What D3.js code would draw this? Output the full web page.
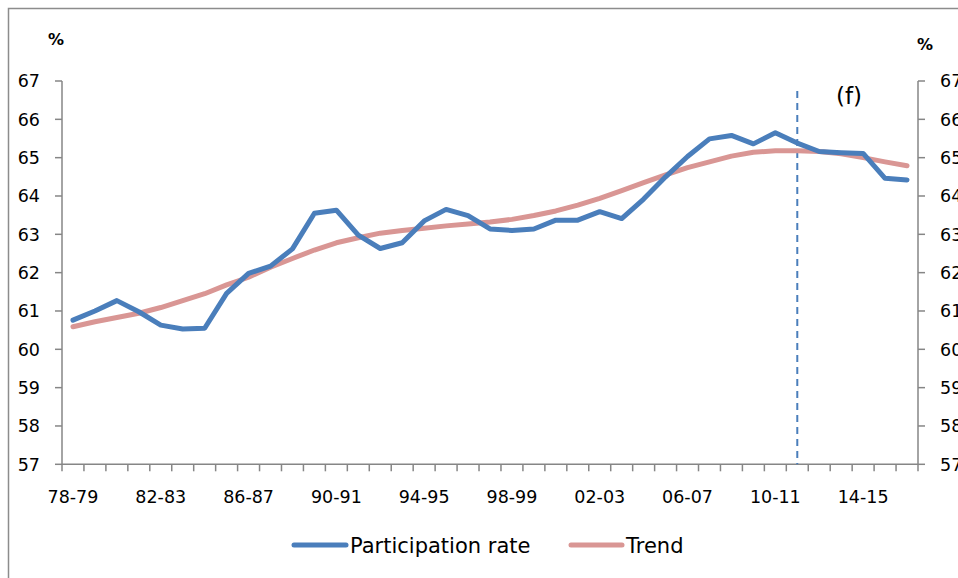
<!DOCTYPE html>
<html>
<head>
<meta charset="utf-8">
<script src="https://cdn.jsdelivr.net/npm/d3@7"></script>
<style>
  html, body { margin: 0; padding: 0; background: #fff; }
  svg { display: block; font-family: "DejaVu Sans", "Open Sans", sans-serif; }
</style>
</head>
<body>
<svg id="chart" width="958" height="578"></svg>
<script>
const categories = [
  "78-79", "79-80", "80-81", "81-82", "82-83", "83-84", "84-85", "85-86",
  "86-87", "87-88", "88-89", "89-90", "90-91", "91-92", "92-93", "93-94",
  "94-95", "95-96", "96-97", "97-98", "98-99", "99-00", "00-01", "01-02",
  "02-03", "03-04", "04-05", "05-06", "06-07", "07-08", "08-09", "09-10",
  "10-11", "11-12", "12-13", "13-14", "14-15", "15-16", "16-17",
];

const participation = [
  60.76, 61.00, 61.27, 60.98, 60.63, 60.53, 60.55, 61.46,
  61.98, 62.17, 62.62, 63.55, 63.63, 62.98, 62.63, 62.78,
  63.35, 63.65, 63.49, 63.14, 63.10, 63.14, 63.37, 63.37,
  63.59, 63.41, 63.92, 64.50, 65.03, 65.49, 65.58, 65.36,
  65.65, 65.38, 65.16, 65.13, 65.11, 64.46, 64.42,
];

const trend = [
  60.59, 60.72, 60.83, 60.94, 61.09, 61.27, 61.45, 61.68,
  61.88, 62.14, 62.37, 62.59, 62.78, 62.91, 63.03, 63.10,
  63.16, 63.22, 63.27, 63.32, 63.39, 63.49, 63.61, 63.76,
  63.94, 64.14, 64.35, 64.55, 64.74, 64.89, 65.04, 65.14,
  65.18, 65.18, 65.16, 65.10, 65.00, 64.89, 64.79,
];

const yTicks = [57, 58, 59, 60, 61, 62, 63, 64, 65, 66, 67];
const labelEvery = 4;
const forecastStart = "11-12";

const seriesList = [
  { name: "Participation rate", values: participation, color: "#4a7ebb" },
  { name: "Trend", values: trend, color: "#d99694" },
];

const svg = d3.select("#chart");
const axisColor = "#868686";

const x = d3.scaleBand().domain(categories).range([62, 918]).padding(0);
const y = d3.scaleLinear().domain([57, 67]).range([464.3, 81]);

// outer chart border
svg.append("rect")
  .attr("x", 8.5).attr("y", 8.5)
  .attr("width", 1000).attr("height", 1000)
  .attr("fill", "none")
  .attr("stroke", "#8c8c8c")
  .attr("stroke-width", 1.5);

const cx = (i) => x(categories[i]) + x.bandwidth() / 2;

// left axis
const left = svg.append("g");
left.append("line")
  .attr("x1", 62).attr("x2", 62)
  .attr("y1", y(67)).attr("y2", y(57))
  .attr("stroke", axisColor).attr("stroke-width", 1.5);
left.selectAll("line.tick")
  .data(yTicks)
  .join("line")
  .attr("class", "tick")
  .attr("x1", 55).attr("x2", 62)
  .attr("y1", (d) => y(d)).attr("y2", (d) => y(d))
  .attr("stroke", axisColor).attr("stroke-width", 1.5);
left.selectAll("text")
  .data(yTicks)
  .join("text")
  .attr("x", 40)
  .attr("y", (d) => y(d))
  .attr("dy", "0.36em")
  .attr("text-anchor", "end")
  .attr("font-size", 17.5)
  .text((d) => d);

// right axis (labels run off the edge, as in the source)
const right = svg.append("g");
right.append("line")
  .attr("x1", 918).attr("x2", 918)
  .attr("y1", y(67)).attr("y2", y(57))
  .attr("stroke", axisColor).attr("stroke-width", 1.5);
right.selectAll("line.tick")
  .data(yTicks)
  .join("line")
  .attr("class", "tick")
  .attr("x1", 918).attr("x2", 925)
  .attr("y1", (d) => y(d)).attr("y2", (d) => y(d))
  .attr("stroke", axisColor).attr("stroke-width", 1.5);
right.selectAll("text")
  .data(yTicks)
  .join("text")
  .attr("x", 940)
  .attr("y", (d) => y(d))
  .attr("dy", "0.36em")
  .attr("font-size", 17.5)
  .text((d) => d);

// % unit labels
svg.append("text").attr("x", 56).attr("y", 45)
  .attr("text-anchor", "middle").attr("font-weight", "bold").attr("font-size", 16)
  .text("%");
svg.append("text").attr("x", 925).attr("y", 50)
  .attr("text-anchor", "middle").attr("font-weight", "bold").attr("font-size", 16)
  .text("%");

// bottom axis with ticks at category boundaries
const bottom = svg.append("g");
bottom.append("line")
  .attr("x1", 62).attr("x2", 918)
  .attr("y1", y(57)).attr("y2", y(57))
  .attr("stroke", axisColor).attr("stroke-width", 1.5);
const boundaries = categories.map((c) => x(c)).concat([x.range()[1]]);
bottom.selectAll("line.tick")
  .data(boundaries)
  .join("line")
  .attr("class", "tick")
  .attr("x1", (d) => d).attr("x2", (d) => d)
  .attr("y1", y(57)).attr("y2", y(57) + 7)
  .attr("stroke", axisColor).attr("stroke-width", 1.5);
bottom.selectAll("text")
  .data(categories.filter((c, i) => i % labelEvery === 0))
  .join("text")
  .attr("x", (d) => x(d) + x.bandwidth() / 2)
  .attr("y", 503)
  .attr("text-anchor", "middle")
  .attr("font-size", 17.5)
  .text((d) => d);

// forecast divider
const fx = x(forecastStart) + x.bandwidth() / 2;
svg.append("line")
  .attr("x1", fx).attr("x2", fx)
  .attr("y1", 91).attr("y2", y(57))
  .attr("stroke", "#4a7ebb")
  .attr("stroke-width", 2)
  .attr("stroke-dasharray", "7,5");
svg.append("text")
  .attr("x", 849).attr("y", 104)
  .attr("text-anchor", "middle")
  .attr("font-size", 23)
  .text("(f)");

// series lines
const line = d3.line()
  .x((d, i) => cx(i))
  .y((d) => y(d));

svg.selectAll("path.series")
  .data(seriesList.slice().reverse())
  .join("path")
  .attr("class", "series")
  .attr("d", (d) => line(d.values))
  .attr("fill", "none")
  .attr("stroke", (d) => d.color)
  .attr("stroke-width", 5)
  .attr("stroke-linejoin", "round")
  .attr("stroke-linecap", "round");

// legend
const legendItems = [
  { series: seriesList[0], x1: 294, x2: 346, tx: 350 },
  { series: seriesList[1], x1: 571, x2: 622, tx: 626 },
];
const legend = svg.append("g");
legend.selectAll("line")
  .data(legendItems)
  .join("line")
  .attr("x1", (d) => d.x1).attr("x2", (d) => d.x2)
  .attr("y1", 545).attr("y2", 545)
  .attr("stroke", (d) => d.series.color)
  .attr("stroke-width", 5)
  .attr("stroke-linecap", "round");
legend.selectAll("text")
  .data(legendItems)
  .join("text")
  .attr("x", (d) => d.tx)
  .attr("y", 545)
  .attr("dy", "0.36em")
  .attr("font-size", 21)
  .text((d) => d.series.name);
</script>
</body>
</html>
